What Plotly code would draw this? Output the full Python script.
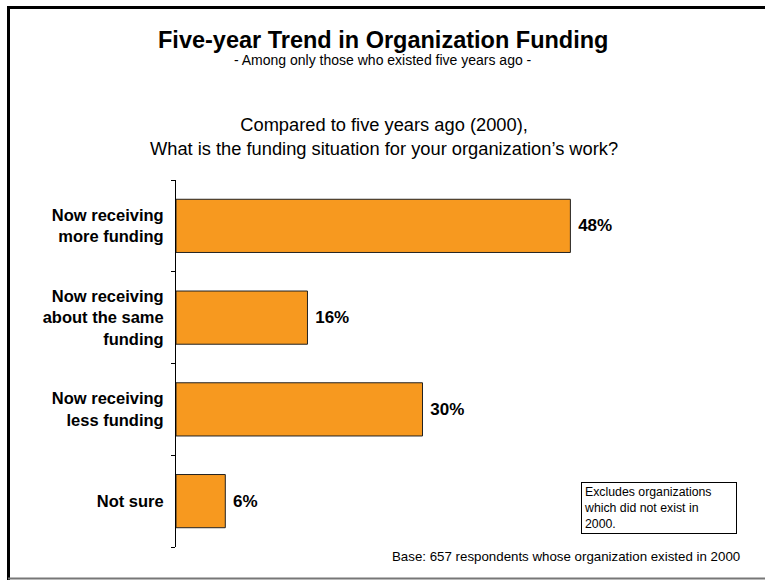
"""Five-year trend in organization funding: horizontal bar chart."""

import plotly.graph_objects as go

categories = [
    "Now receiving<br>more funding",
    "Now receiving<br>about the same<br>funding",
    "Now receiving<br>less funding",
    "Not sure",
]
percents = [48, 16, 30, 6]

FONT = "Arial, Liberation Sans, Helvetica, sans-serif"
W, H = 765, 580
L, R, T, B = 176, 96, 180, 33
PW, PH = W - L - R, H - T - B


def px(x):
    # pixel x -> paper x
    return (x - L) / PW


def py(y):
    # pixel y -> paper y
    return (H - B - y) / PH


fig = go.Figure(go.Bar(
    x=percents, y=categories, orientation="h",
    marker=dict(color="#F7991F", line=dict(color="#222222", width=1)),
    texttemplate=" <b>%{x}%</b>", textposition="outside",
    textfont=dict(family=FONT, size=17, color="black"),
    cliponaxis=False, width=0.58,
))

annotations = [
    dict(text="<b>Five-year Trend in Organization Funding</b>", x=px(383), y=py(40),
         font=dict(size=23.5)),
    dict(text="- Among only those who existed five years ago -", x=px(383), y=py(60),
         font=dict(size=14)),
    dict(text="Compared to five years ago (2000),<br>What is the funding situation for your organization’s work?",
         x=px(384), y=py(137), font=dict(size=18.3)),
    dict(text="Base: 657 respondents whose organization existed in 2000", x=px(742), y=py(556),
         xanchor="right", font=dict(size=13.3)),
    dict(text="Excludes organizations<br>which did not exist in<br>2000.", x=px(581), y=py(482),
         xanchor="left", yanchor="top", align="left", font=dict(size=12.3),
         bordercolor="black", borderwidth=1, borderpad=2, bgcolor="white", width=150),
]
for a in annotations:
    a.setdefault("xref", "paper")
    a.setdefault("yref", "paper")
    a.setdefault("showarrow", False)
    a.setdefault("xanchor", "center")
    a.setdefault("yanchor", "middle")
    a["font"] = dict(family=FONT, color="black", **a["font"])

# slide frame: heavy black top and left edges, thin grey bottom edge
shapes = [
    dict(type="line", x0=px(7), x1=px(765), y0=py(7.5), y1=py(7.5), line=dict(color="black", width=3)),
    dict(type="line", x0=px(8.5), x1=px(8.5), y0=py(6), y1=py(580), line=dict(color="black", width=3)),
    dict(type="line", x0=px(8), x1=px(765), y0=py(578.5), y1=py(578.5), line=dict(color="#777777", width=2)),
]
for s in shapes:
    s["xref"] = "paper"
    s["yref"] = "paper"

fig.update_layout(
    width=W, height=H,
    margin=dict(l=L, r=R, t=T, b=B),
    paper_bgcolor="white", plot_bgcolor="white",
    showlegend=False,
    font=dict(family=FONT, color="black"),
    xaxis=dict(range=[0, 60], visible=False, fixedrange=True),
    yaxis=dict(
        type="category", categoryorder="array", categoryarray=categories,
        autorange="reversed", showline=True, linecolor="black", linewidth=1,
        ticks="outside", ticklen=4, tickcolor="black", tickson="boundaries",
        tickfont=dict(family=FONT, size=16.5, color="black"),
        showgrid=False, zeroline=False, ticklabelstandoff=8,
    ),
    annotations=annotations,
    shapes=shapes,
)

# bold category labels
fig.update_yaxes(ticktext=["<b>" + c + "</b>" for c in categories], tickvals=categories)

# page body has a default 8px margin and may scroll; pin the figure to the window origin
fig.write_html(
    "out.html",
    config={"displayModeBar": False},
    post_script=(
        "document.body.style.margin='0';"
        "document.body.style.overflow='hidden';"
        "document.documentElement.style.overflow='hidden';"
    ),
)
